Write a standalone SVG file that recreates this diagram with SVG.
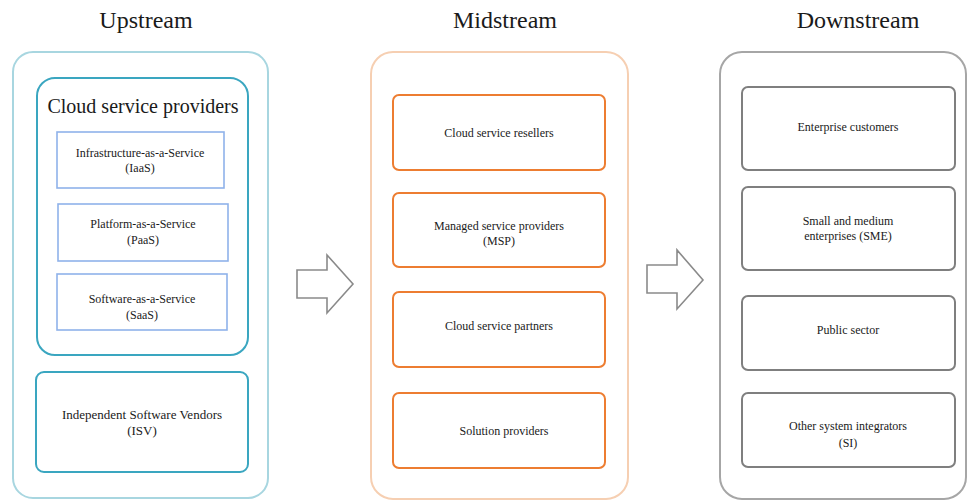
<svg xmlns="http://www.w3.org/2000/svg" width="969" height="502" viewBox="0 0 969 502">
<style>
text{font-family:"Liberation Serif","Times New Roman",serif;fill:#1a1a1a;text-anchor:middle}
.title{font-size:24px}
.t{font-family:"Liberation Serif","Times New Roman",serif;font-size:12px}
.up-outer{fill:#fff;stroke:#a8d6e0;stroke-width:2}
.up-inner{fill:#fff;stroke:#3aa6c0;stroke-width:2}
.up-svc{fill:#fff;stroke:#8fb2ea;stroke-width:1.6}
.mid-outer{fill:#fff;stroke:#f6cfb2;stroke-width:2}
.mid-box{fill:#fff;stroke:#ed7d31;stroke-width:2}
.down-outer{fill:#fff;stroke:#a6a6a6;stroke-width:2}
.down-box{fill:#fff;stroke:#7f7f7f;stroke-width:2}
.arrow{fill:#fff;stroke:#8a8a8a;stroke-width:1.6}
</style>
<rect width="969" height="502" fill="#fff"/>
<text class="title" x="146" y="28">Upstream</text>
<text class="title" x="505" y="28">Midstream</text>
<text class="title" x="858" y="28">Downstream</text>

<g id="upstream">
<rect class="up-outer" x="13" y="52" width="255" height="446" rx="20"/>
<g id="csp">
<rect class="up-inner" x="37" y="78" width="211" height="277" rx="18"/>
<text x="143" y="113" font-family="Liberation Serif, serif" style="font-size:20px">Cloud service providers</text>
</g>
<g id="iaas"><rect class="up-svc" x="57" y="132" width="167" height="56"/>
<text class="t" x="140" y="157">Infrastructure-as-a-Service</text><text class="t" x="140" y="172">(IaaS)</text></g>
<g id="paas"><rect class="up-svc" x="58" y="204" width="170" height="57"/>
<text class="t" x="143" y="228">Platform-as-a-Service</text><text class="t" x="143" y="244">(PaaS)</text></g>
<g id="saas"><rect class="up-svc" x="57" y="274" width="170" height="56"/>
<text class="t" x="142" y="303">Software-as-a-Service</text><text class="t" x="142" y="319">(SaaS)</text></g>
<g id="isv"><rect class="up-inner" x="36" y="372" width="212" height="100" rx="8"/>
<text class="t" x="142" y="419" style="font-size:13px">Independent Software Vendors</text><text class="t" x="142" y="435" style="font-size:13px">(ISV)</text></g>
</g>

<g id="connectors">
<path class="arrow" d="M297 270 L327 270 L327 255 L353 284 L327 313 L327 298 L297 298 Z"/>
<path class="arrow" d="M647 265 L677 265 L677 250 L703 280 L677 309 L677 293 L647 293 Z"/>
</g>

<g id="midstream">
<rect class="mid-outer" x="371" y="52" width="257" height="447" rx="22"/>
<g id="resellers"><rect class="mid-box" x="393" y="95" width="212" height="75" rx="6"/>
<text class="t" x="499" y="137">Cloud service resellers</text></g>
<g id="msp"><rect class="mid-box" x="393" y="193" width="212" height="74" rx="6"/>
<text class="t" x="499" y="230">Managed service providers</text><text class="t" x="499" y="245">(MSP)</text></g>
<g id="partners"><rect class="mid-box" x="393" y="292" width="212" height="75" rx="6"/>
<text class="t" x="499" y="330">Cloud service partners</text></g>
<g id="solution"><rect class="mid-box" x="393" y="393" width="212" height="75" rx="6"/>
<text class="t" x="504" y="435">Solution providers</text></g>
</g>

<g id="downstream">
<rect class="down-outer" x="720" y="52" width="246" height="447" rx="22"/>
<g id="enterprise"><rect class="down-box" x="742" y="87" width="213" height="83" rx="6"/>
<text class="t" x="848" y="131">Enterprise customers</text></g>
<g id="sme"><rect class="down-box" x="742" y="187" width="213" height="83" rx="6"/>
<text class="t" x="848" y="225">Small and medium</text><text class="t" x="848" y="240">enterprises (SME)</text></g>
<g id="public"><rect class="down-box" x="742" y="296" width="213" height="74" rx="6"/>
<text class="t" x="848" y="334">Public sector</text></g>
<g id="si"><rect class="down-box" x="742" y="393" width="213" height="74" rx="6"/>
<text class="t" x="848" y="430">Other system integrators</text><text class="t" x="848" y="447">(SI)</text></g>
</g>
</svg>
